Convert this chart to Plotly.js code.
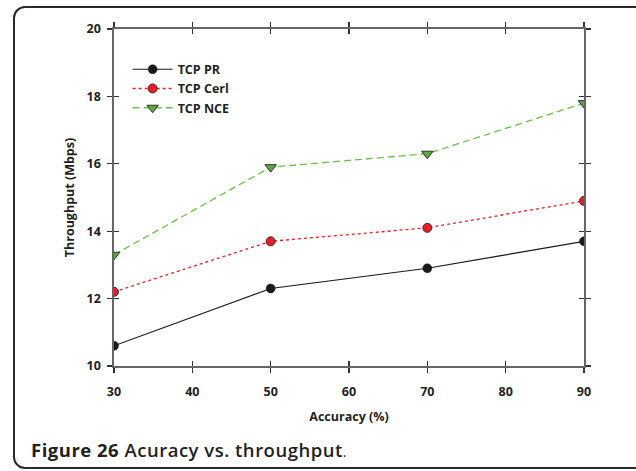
<!DOCTYPE html>
<html>
<head>
<meta charset="utf-8">
<script src="https://cdn.plot.ly/plotly-3.0.1.min.js"></script>
<style>
  html, body { margin: 0; padding: 0; background: #fff; }
  #wrap { position: relative; width: 636px; height: 471px; overflow: hidden; }
  #frame { position: absolute; left: 13px; top: 6px; width: 650px; height: 463px;
           border: 2px solid #2a2a2a; border-radius: 12px; box-sizing: border-box; }
  #chart { position: absolute; left: 0; top: 0; width: 636px; height: 471px; }
  #caption { position: absolute; left: 31px; top: 437px; font-family: "Open Sans", sans-serif;
             font-size: 18.5px; letter-spacing: 0.5px; color: #231f20; white-space: nowrap; }
  #caption b { font-weight: 700; }
  #caption span { font-weight: 600; }
  #caption i { font-style: normal; font-weight: 400; font-size: 14px; }
</style>
</head>
<body>
<div id="wrap">
  <div id="frame"></div>
  <div id="chart"></div>
  <div id="caption"><b>Figure 26</b> <span>Acuracy vs. throughput</span><i>.</i></div>
</div>
<script>
const accuracy = [30, 50, 70, 90];
const tcpPR   = [10.6, 12.3, 12.9, 13.7];
const tcpCerl = [12.2, 13.7, 14.1, 14.9];
const tcpNCE  = [13.3, 15.9, 16.3, 17.8];
const seriesNames = ['TCP PR', 'TCP Cerl', 'TCP NCE'];
const xTicks = [30, 40, 50, 60, 70, 80, 90];
const yTicks = [10, 12, 14, 16, 18, 20];

const fontFam = '"Open Sans", sans-serif';
const txt = (size) => ({ family: fontFam, size: size, color: '#231f20', weight: 700 });

const traces = [
  { x: accuracy, y: tcpPR, name: seriesNames[0], type: 'scatter', mode: 'lines+markers',
    line: { color: '#1a1a1a', width: 1.2 },
    marker: { symbol: 'circle', size: 9, color: '#1a1a1a', line: { color: '#1a1a1a', width: 0.5 } } },
  { x: accuracy, y: tcpCerl, name: seriesNames[1], type: 'scatter', mode: 'lines+markers',
    line: { color: '#ee1c25', width: 1.3, dash: 'dot' },
    marker: { symbol: 'circle', size: 9, color: '#ee1c25', line: { color: '#333', width: 1 } } },
  { x: accuracy, y: tcpNCE, name: seriesNames[2], type: 'scatter', mode: 'lines+markers',
    line: { color: '#6cc04a', width: 1.3, dash: '7px,4px' },
    marker: { symbol: 'triangle-down', size: 10, color: '#5aab3a', line: { color: '#333', width: 1 } } },
  // empty helper trace so the overlay axes (inner half of the cross ticks) are drawn
  { x: [], y: [], xaxis: 'x2', yaxis: 'y2', type: 'scatter', mode: 'markers', showlegend: false, hoverinfo: 'skip' }
];

const axCommon = {
  showgrid: false, zeroline: false, showline: true, linecolor: '#666', linewidth: 1.6,
  mirror: 'ticks', ticks: 'outside', ticklen: 5, tickwidth: 1.2, tickcolor: '#333',
  tickfont: txt(12.5)
};
const innerAx = {
  showgrid: false, zeroline: false, showline: false, showticklabels: false,
  ticks: 'inside', mirror: 'ticks', ticklen: 5, tickwidth: 1.2, tickcolor: '#333'
};

const layout = {
  width: 636, height: 471,
  margin: { l: 114.3, r: 52.3, t: 29, b: 105.3 },
  paper_bgcolor: 'rgba(0,0,0,0)', plot_bgcolor: 'rgba(0,0,0,0)',
  showlegend: true,
  legend: { x: 0.029, y: 0.924, xanchor: 'left', yanchor: 'top', bgcolor: 'rgba(0,0,0,0)',
            itemwidth: 40, tracegroupgap: 0, font: txt(12.5) },
  xaxis: Object.assign({}, axCommon, {
    range: [30, 90], tickvals: xTicks, ticklabelstandoff: 8,
    title: { text: 'Accuracy (%)', standoff: 13, font: txt(12.5) }
  }),
  yaxis: Object.assign({}, axCommon, {
    range: [10, 20], tickvals: yTicks, ticklabelstandoff: 4,
    title: { text: 'Throughput (Mbps)', standoff: 9, font: txt(12.5) }
  }),
  xaxis2: Object.assign({}, innerAx, { overlaying: 'x', range: [30, 90], tickvals: xTicks, anchor: 'y2' }),
  yaxis2: Object.assign({}, innerAx, { overlaying: 'y', range: [10, 20], tickvals: yTicks, anchor: 'x2' })
};

Plotly.newPlot('chart', traces, layout, { displayModeBar: false, staticPlot: true });
</script>
</body>
</html>
